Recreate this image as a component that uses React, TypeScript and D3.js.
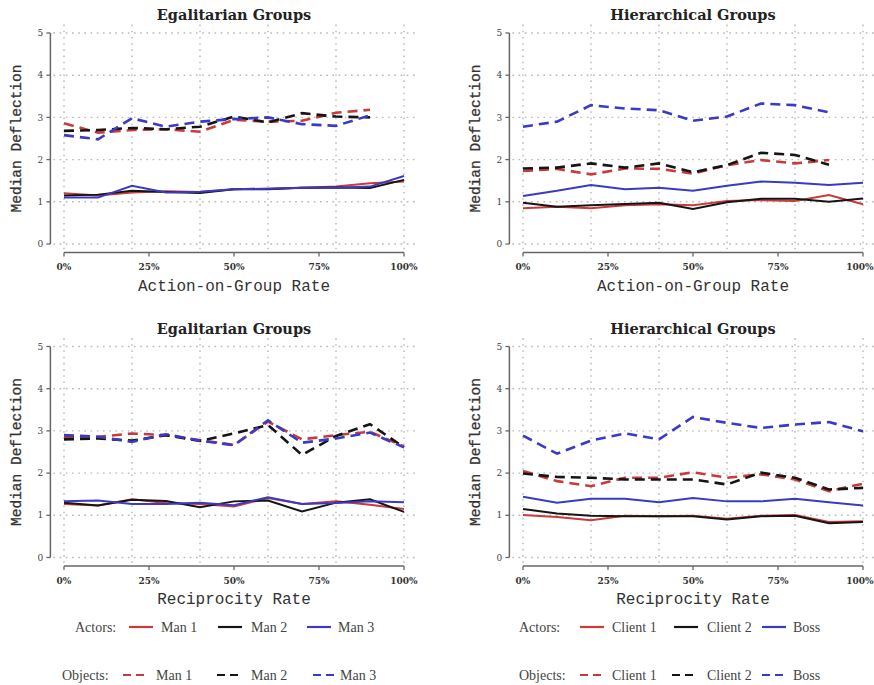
import React from "react";
import * as d3 from "d3";

// ---------- data ----------
const rates = [0, 0.1, 0.2, 0.3, 0.4, 0.5, 0.6, 0.7, 0.8, 0.9, 1.0];
const xTickValues = [0, 0.25, 0.5, 0.75, 1];
const xTickLabels = ["0%", "25%", "50%", "75%", "100%"];
const xGridValues = [0, 0.2, 0.4, 0.6, 0.8, 1];
const yTickValues = [0, 1, 2, 3, 4, 5];

// Egalitarian – Action-on-Group Rate
const egalActActor1 = [1.2, 1.15, 1.22, 1.25, 1.23, 1.3, 1.31, 1.33, 1.36, 1.44, 1.48];
const egalActActor2 = [1.15, 1.17, 1.26, 1.23, 1.21, 1.3, 1.3, 1.33, 1.34, 1.33, 1.52];
const egalActActor3 = [1.1, 1.1, 1.38, 1.22, 1.24, 1.3, 1.31, 1.33, 1.33, 1.36, 1.61];
const egalActObject1 = [2.86, 2.64, 2.7, 2.72, 2.66, 2.94, 2.9, 2.92, 3.11, 3.18, null];
const egalActObject2 = [2.68, 2.7, 2.75, 2.72, 2.78, 3.02, 2.88, 3.1, 3.02, 3.0, null];
const egalActObject3 = [2.58, 2.48, 2.98, 2.78, 2.9, 2.96, 3.0, 2.84, 2.8, 3.05, null];

// Hierarchical – Action-on-Group Rate
const hierActActor1 = [0.85, 0.88, 0.85, 0.92, 0.94, 0.92, 1.02, 1.04, 1.02, 1.16, 0.94];
const hierActActor2 = [0.98, 0.88, 0.92, 0.95, 0.98, 0.83, 0.99, 1.07, 1.07, 1.0, 1.08];
const hierActActor3 = [1.14, 1.26, 1.4, 1.3, 1.33, 1.26, 1.38, 1.48, 1.45, 1.4, 1.45];
const hierActObject1 = [1.73, 1.78, 1.65, 1.79, 1.78, 1.67, 1.87, 1.99, 1.91, 1.99, null];
const hierActObject2 = [1.79, 1.81, 1.91, 1.81, 1.91, 1.7, 1.87, 2.16, 2.11, 1.88, null];
const hierActObject3 = [2.78, 2.9, 3.29, 3.21, 3.17, 2.92, 3.02, 3.33, 3.29, 3.12, null];

// Egalitarian – Reciprocity Rate
const egalRecActor1 = [1.27, 1.23, 1.38, 1.29, 1.27, 1.21, 1.41, 1.27, 1.33, 1.25, 1.15];
const egalRecActor2 = [1.3, 1.23, 1.37, 1.34, 1.19, 1.33, 1.35, 1.09, 1.3, 1.38, 1.08];
const egalRecActor3 = [1.33, 1.35, 1.27, 1.27, 1.3, 1.24, 1.43, 1.27, 1.29, 1.33, 1.31];
const egalRecObject1 = [2.86, 2.86, 2.94, 2.9, 2.78, 2.67, 3.22, 2.8, 2.9, 2.98, 2.63];
const egalRecObject2 = [2.8, 2.82, 2.77, 2.9, 2.76, 2.94, 3.14, 2.43, 2.88, 3.16, 2.61];
const egalRecObject3 = [2.9, 2.86, 2.74, 2.92, 2.77, 2.66, 3.25, 2.72, 2.82, 2.96, 2.61];

// Hierarchical – Reciprocity Rate
const hierRecActor1 = [1.01, 0.96, 0.88, 0.99, 0.98, 0.99, 0.92, 0.99, 1.01, 0.84, 0.86];
const hierRecActor2 = [1.15, 1.04, 0.99, 0.98, 0.98, 0.98, 0.9, 0.98, 0.99, 0.81, 0.84];
const hierRecActor3 = [1.44, 1.3, 1.39, 1.39, 1.31, 1.41, 1.33, 1.33, 1.39, 1.31, 1.23];
const hierRecObject1 = [2.05, 1.81, 1.69, 1.89, 1.89, 2.02, 1.89, 1.97, 1.85, 1.57, 1.75];
const hierRecObject2 = [1.99, 1.91, 1.89, 1.85, 1.85, 1.85, 1.73, 2.01, 1.89, 1.61, 1.65];
const hierRecObject3 = [2.89, 2.46, 2.77, 2.94, 2.8, 3.33, 3.19, 3.07, 3.15, 3.21, 2.99];

const egalNames = ["Man 1", "Man 2", "Man 3"];
const hierNames = ["Client 1", "Client 2", "Boss"];

// ---------- styles ----------
const COLORS = ["#c93a3a", "#151515", "#3a3ac4"];
const GRID = "#b8b8b8";
const AXIS = "#666";
const TXT = "#333";
const MONO = "'Liberation Mono', 'DejaVu Sans Mono', monospace";
const SERIF = "'DejaVu Serif', 'Liberation Serif', serif";
const LSERIF = "'Liberation Serif', serif";

type PanelProps = {
  x0: number;
  y5: number;
  title: string;
  xTitle: string;
  actors: (number | null)[][];
  objects: (number | null)[][];
};

function Panel({ x0, y5, title, xTitle, actors, objects }: PanelProps) {
  const x = d3.scaleLinear().domain([0, 1]).range([x0, x0 + 340]);
  const y = d3.scaleLinear().domain([0, 5]).range([y5 + 211, y5]);
  const px0 = x(-0.04);
  const px1 = Math.min(x(1.04), 874);
  const py0 = y(-0.2);
  const py1 = y(5.2);
  const axisX = px0;
  const axisY = py0;
  const line = d3
    .line<number | null>()
    .defined((d) => d !== null)
    .x((_, i) => x(rates[i]))
    .y((d) => y(d as number));

  return (
    <g>
      {/* grid */}
      {yTickValues.map((v) => (
        <line key={"h" + v} x1={px0 + 3} x2={px1} y1={y(v)} y2={y(v)} stroke={GRID} strokeWidth={1.4} strokeDasharray="1.6,4.6" />
      ))}
      {xGridValues.map((v) => (
        <line key={"v" + v} x1={x(v)} x2={x(v)} y1={py1} y2={py0 - 3} stroke={GRID} strokeWidth={1.4} strokeDasharray="1.6,4.6" />
      ))}
      {/* axes */}
      <line x1={axisX} x2={axisX} y1={y(5)} y2={y(0)} stroke={AXIS} strokeWidth={1.5} />
      {yTickValues.map((v) => (
        <g key={"yt" + v}>
          <line x1={axisX - 4} x2={axisX} y1={y(v)} y2={y(v)} stroke={AXIS} strokeWidth={1.3} />
          <text x={axisX - 10} y={y(v)} dy="0.35em" textAnchor="middle" fontFamily={SERIF} fontSize={9} fill="#444">
            {v}
          </text>
        </g>
      ))}
      <line x1={x(0)} x2={x(1)} y1={axisY} y2={axisY} stroke={AXIS} strokeWidth={1.5} />
      {xTickValues.map((v, i) => (
        <g key={"xt" + v}>
          <line x1={x(v)} x2={x(v)} y1={axisY} y2={axisY + 4} stroke={AXIS} strokeWidth={1.3} />
          <text
            x={Math.min(x(v), 860)}
            y={y5 + 237}
            textAnchor="middle"
            fontFamily={SERIF}
            fontSize={9}
            fontWeight="bold"
            fill="#333"
          >
            {xTickLabels[i]}
          </text>
        </g>
      ))}
      {/* titles */}
      <text x={x0 + 170} y={y5 - 13} textAnchor="middle" fontFamily={SERIF} fontSize={14.5} fontWeight="bold" fill="#222">
        {title}
      </text>
      <text x={x0 + 170} y={y5 + 257.5} textAnchor="middle" fontFamily={MONO} fontSize={16} fill={TXT}>
        {xTitle}
      </text>
      <text
        transform={`translate(${x0 - 43},${y(2.5)}) rotate(-90)`}
        textAnchor="middle"
        fontFamily={MONO}
        fontSize={14.5}
        fill={TXT}
        stroke={TXT}
        strokeWidth={0.3}
      >
        Median Deflection
      </text>
      {/* series */}
      {objects.map((s, i) => (
        <path key={"o" + i} d={line(s) || ""} fill="none" stroke={COLORS[i]} strokeWidth={2.6} strokeDasharray="10,6" />
      ))}
      {actors.map((s, i) => (
        <path key={"a" + i} d={line(s) || ""} fill="none" stroke={COLORS[i]} strokeWidth={2} />
      ))}
    </g>
  );
}

type LegendRowProps = {
  label: string;
  y: number;
  labelX: number;
  lineXs: number[];
  textXs: number[];
  names: string[];
  dashed: boolean;
};

function LegendRow({ label, y, labelX, lineXs, textXs, names, dashed }: LegendRowProps) {
  return (
    <g>
      <text x={labelX} y={y + 4.5} fontFamily={LSERIF} fontSize={14} fill="#444">
        {label}
      </text>
      {names.map((n, i) => (
        <g key={n}>
          <line
            x1={lineXs[i]}
            x2={lineXs[i] + (dashed ? 21 : 24)}
            y1={y}
            y2={y}
            stroke={COLORS[i]}
            strokeWidth={2.2}
            strokeDasharray={dashed ? "8,5" : undefined}
          />
          <text x={textXs[i]} y={y + 4.5} fontFamily={LSERIF} fontSize={14} fill="#444">
            {n}
          </text>
        </g>
      ))}
    </g>
  );
}

export default function App() {
  return (
    <svg width={874} height={685} style={{ position: "absolute", left: 0, top: 0, background: "#fff" }}>
      <rect width={874} height={685} fill="#fff" />
      <Panel
        x0={64}
        y5={33}
        title="Egalitarian Groups"
        xTitle="Action-on-Group Rate"
        actors={[egalActActor1, egalActActor2, egalActActor3]}
        objects={[egalActObject1, egalActObject2, egalActObject3]}
      />
      <Panel
        x0={523}
        y5={33}
        title="Hierarchical Groups"
        xTitle="Action-on-Group Rate"
        actors={[hierActActor1, hierActActor2, hierActActor3]}
        objects={[hierActObject1, hierActObject2, hierActObject3]}
      />
      <Panel
        x0={64}
        y5={346.5}
        title="Egalitarian Groups"
        xTitle="Reciprocity Rate"
        actors={[egalRecActor1, egalRecActor2, egalRecActor3]}
        objects={[egalRecObject1, egalRecObject2, egalRecObject3]}
      />
      <Panel
        x0={523}
        y5={346.5}
        title="Hierarchical Groups"
        xTitle="Reciprocity Rate"
        actors={[hierRecActor1, hierRecActor2, hierRecActor3]}
        objects={[hierRecObject1, hierRecObject2, hierRecObject3]}
      />
      <LegendRow label="Actors:" y={627} labelX={75} lineXs={[129, 218, 307]} textXs={[161, 251, 338]} names={egalNames} dashed={false} />
      <LegendRow label="Objects:" y={675} labelX={62} lineXs={[123, 217, 313]} textXs={[156, 251, 340]} names={egalNames} dashed={true} />
      <LegendRow label="Actors:" y={627} labelX={519} lineXs={[580, 674, 762]} textXs={[612, 707, 793]} names={hierNames} dashed={false} />
      <LegendRow label="Objects:" y={675} labelX={519} lineXs={[580, 672, 762]} textXs={[612, 707, 793]} names={hierNames} dashed={true} />
    </svg>
  );
}
